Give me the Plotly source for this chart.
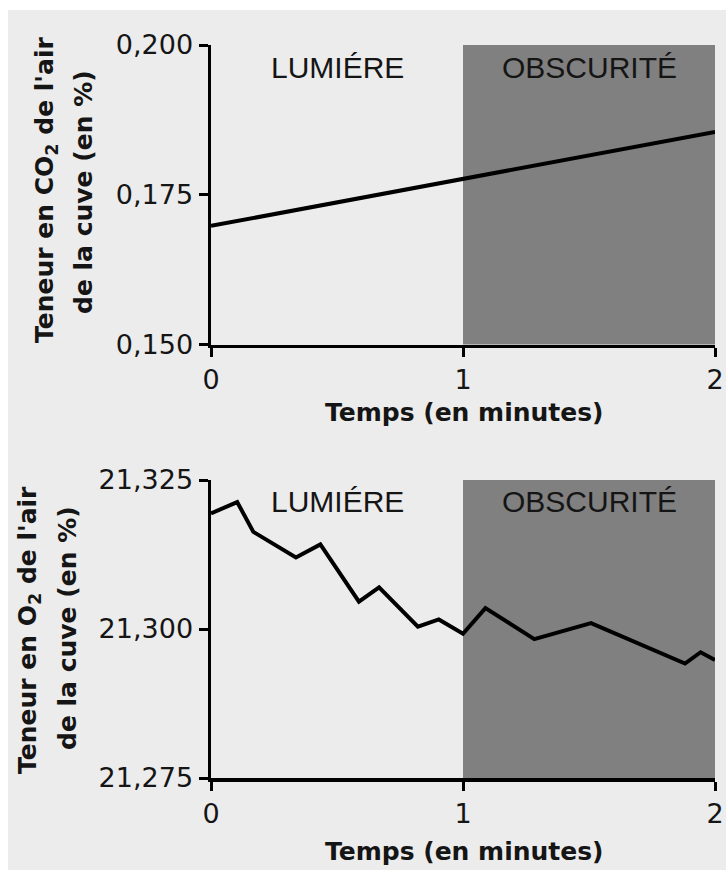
import plotly.graph_objects as go
from plotly.subplots import make_subplots

# ---- data ----
time_co2 = [0, 1, 2]
co2 = [0.1698, 0.1777, 0.1855]

time_o2 = [0.0, 0.104, 0.168, 0.337, 0.434, 0.587, 0.667, 0.821, 0.904, 1.0,
           1.089, 1.283, 1.508, 1.881, 1.943, 2.0]
o2 = [21.3194, 21.3213, 21.3163, 21.3120, 21.3142, 21.3046, 21.3070, 21.3004,
      21.3016, 21.2992, 21.3035, 21.2983, 21.3010, 21.2942, 21.2961, 21.2948]

x_ticks = [0, 1, 2]
co2_ticks = [0.150, 0.175, 0.200]
o2_ticks = [21.275, 21.300, 21.325]
phase_labels = ["LUMIÉRE", "OBSCURITÉ"]
phase_centers = [0.5, 1.5]
dark_start, dark_end = 1, 2

# ---- layout geometry (pixels) ----
W, H = 726, 870
ML, MR, MT, MB = 211, 11, 45, 92
PW, PH = W - ML - MR, H - MT - MB


def px(x):
    """screen x -> paper x"""
    return (x - ML) / PW


def py(y):
    """screen y -> paper y"""
    return (H - MB - y) / PH


BG = "#ececec"
SHADE = "#808080"
FONT = "DejaVu Sans"
ARIAL = "Liberation Sans"
TXT = "#151515"

fig = make_subplots(rows=2, cols=1)

fig.add_trace(go.Scatter(x=time_co2, y=co2, mode="lines",
                         line=dict(color="black", width=4),
                         showlegend=False, hoverinfo="skip"), row=1, col=1)
fig.add_trace(go.Scatter(x=time_o2, y=o2, mode="lines",
                         line=dict(color="black", width=4),
                         showlegend=False, hoverinfo="skip"), row=2, col=1)

shapes = [
    dict(type="rect", xref="paper", yref="paper", x0=px(-5), x1=px(740),
         y0=py(10), y1=py(-5), fillcolor="white", line=dict(width=0),
         layer="below"),
    dict(type="rect", xref="paper", yref="paper", x0=px(-5), x1=px(8),
         y0=py(880), y1=py(-5), fillcolor="white", line=dict(width=0),
         layer="below"),
    dict(type="rect", xref="x", yref="y domain", x0=dark_start, x1=dark_end,
         y0=0, y1=1, fillcolor=SHADE, line=dict(width=0), layer="below"),
    dict(type="rect", xref="x2", yref="y2 domain", x0=dark_start, x1=dark_end,
         y0=0, y1=1, fillcolor=SHADE, line=dict(width=0), layer="below"),
]

annotations = []
for lab, cx in zip(phase_labels, phase_centers):
    annotations.append(dict(text=lab, x=cx, xref="x", y=py(68), yref="paper",
                            showarrow=False, xanchor="center", yanchor="middle",
                            font=dict(family=ARIAL, size=30, color=TXT)))
    annotations.append(dict(text=lab, x=cx, xref="x2", y=py(501), yref="paper",
                            showarrow=False, xanchor="center", yanchor="middle",
                            font=dict(family=ARIAL, size=30, color=TXT)))

title_font = dict(family=FONT, size=25, color=TXT)
for txt, xx, yy in [("<b>Teneur en CO<sub>2</sub> de l'air</b>", 46, 190),
                    ("<b>de la cuve (en %)</b>", 84, 192),
                    ("<b>Teneur en O<sub>2</sub> de l'air</b>", 29, 630),
                    ("<b>de la cuve (en %)</b>", 67, 628)]:
    annotations.append(dict(text=txt, x=px(xx), y=py(yy), xref="paper",
                            yref="paper", textangle=-90, showarrow=False,
                            xanchor="center", yanchor="middle", font=title_font))
for yy in [412, 851]:
    annotations.append(dict(text="<b>Temps (en minutes)</b>", x=px(464),
                            y=py(yy), xref="paper", yref="paper",
                            showarrow=False, xanchor="center", yanchor="middle",
                            font=title_font))

axis_common = dict(showline=True, linecolor="black", linewidth=3.5,
                   ticks="outside", ticklen=9, tickwidth=3, tickcolor="black",
                   showgrid=False, zeroline=False, automargin=False,
                   tickfont=dict(family=FONT, size=27, color=TXT))

fig.update_xaxes(range=[0, 2], tickvals=x_ticks, ticktext=[str(v) for v in x_ticks],
                 **axis_common)
fig.update_yaxes(**axis_common)
fig.update_yaxes(range=[0.150, 0.200], tickvals=co2_ticks,
                 ticktext=[f"{v:.3f}".replace(".", ",") for v in co2_ticks],
                 domain=[py(344.5), 1.0], row=1, col=1)
fig.update_yaxes(range=[21.275, 21.325], tickvals=o2_ticks,
                 ticktext=[f"{v:.3f}".replace(".", ",") for v in o2_ticks],
                 domain=[0.0, py(480)], row=2, col=1)
fig.update_xaxes(domain=[0, 1], anchor="y", row=1, col=1)
fig.update_xaxes(domain=[0, 1], anchor="y2", row=2, col=1)

fig.update_layout(width=W, height=H,
                  margin=dict(l=ML, r=MR, t=MT, b=MB, pad=0, autoexpand=False),
                  paper_bgcolor=BG, plot_bgcolor="rgba(0,0,0,0)",
                  shapes=shapes, annotations=annotations,
                  font=dict(family=FONT), showlegend=False)

fig.write_html(
    "out.html",
    config={"displayModeBar": False, "staticPlot": True},
    post_script="document.body.style.margin='0';"
                "document.body.style.overflow='hidden';",
)
